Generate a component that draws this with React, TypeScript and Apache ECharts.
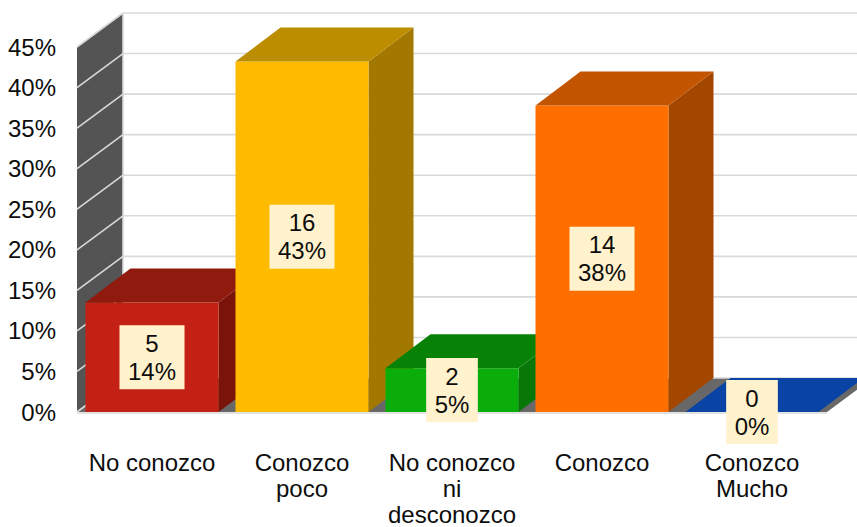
import React, { useEffect, useRef } from "react";
import * as echarts from "echarts";

const categories = ["No conozco", "Conozco\npoco", "No conozco\nni\ndesconozco", "Conozco", "Conozco\nMucho"];
const counts = [5, 16, 2, 14, 0];
const shares = [13.5, 43.2, 5.4, 37.8, 0];
const yTicks = [0, 5, 10, 15, 20, 25, 30, 35, 40, 45];

const frontColors = ["#c32113", "#ffbb00", "#0aad0a", "#ff6f00", "#0944a5"];
const topColors = ["#8f1a0d", "#bd8d00", "#078207", "#c45500", "#0944a5"];
const sideColors = ["#7a130a", "#a37800", "#077707", "#a34700", "#07358a"];

// Projection of the chart's depth axis, in pixels
const DEPTH_X = 46;
const DEPTH_Y = -34;
const BAR_DEPTH_X = 45;
const BAR_RATIO = 133 / 150;
const FONT = "'Liberation Sans', Arial, sans-serif";
const GRID_COLOR = "#d9d9d9";
const TEXT_SIZE = 24;

const poly = (points: number[][], fill: string) => ({
  type: "polygon",
  shape: { points },
  style: { fill, stroke: null },
});

const seg = (a: number[], b: number[], width = 1.6) => ({
  type: "line",
  shape: { x1: a[0], y1: a[1], x2: b[0], y2: b[1] },
  style: { stroke: GRID_COLOR, lineWidth: width },
});

// Side wall and floor of the 3D box
function renderBackdrop(params: any) {
  const { x, y, width, height } = params.coordSys;
  const bottom = y + height;
  const right = x + width;
  return {
    type: "group",
    children: [
      poly([[x, y], [x + DEPTH_X, y + DEPTH_Y], [x + DEPTH_X, bottom + DEPTH_Y], [x, bottom]], "#545454"),
      poly([[x, bottom], [right, bottom], [right + DEPTH_X, bottom + DEPTH_Y], [x + DEPTH_X, bottom + DEPTH_Y]], "#686868"),
      seg([x + DEPTH_X, y + DEPTH_Y], [x + DEPTH_X, bottom + DEPTH_Y]),
      seg([x, bottom + 1], [right, bottom + 1]),
    ],
  };
}

// One gridline: slanted across the wall, then level along the back
function renderGridline(params: any, api: any) {
  const { x, width } = params.coordSys;
  const py = api.coord([0, api.value(0)])[1];
  return {
    type: "group",
    children: [
      seg([x, py], [x + DEPTH_X, py + DEPTH_Y]),
      seg([x + DEPTH_X, py + DEPTH_Y], [x + width + DEPTH_X, py + DEPTH_Y]),
    ],
  };
}

function renderBar(params: any, api: any) {
  const i = params.dataIndex;
  const [cx, top] = api.coord([i, api.value(1)]);
  const base = api.coord([i, 0])[1];
  const half = (api.size([1, 0])[0] * BAR_RATIO) / 2;
  const l = cx - half;
  const r = cx + half;
  const children: any[] = [];
  if (base - top > 0) {
    children.push(
      poly([[r, top], [r + BAR_DEPTH_X, top + DEPTH_Y], [r + BAR_DEPTH_X, base + DEPTH_Y], [r, base]], sideColors[i]),
      poly([[l, base], [r, base], [r, top], [l, top]], frontColors[i]),
    );
  }
  children.push(poly([[l, top], [r, top], [r + BAR_DEPTH_X, top + DEPTH_Y], [l + BAR_DEPTH_X, top + DEPTH_Y]], topColors[i]));
  return { type: "group", children };
}

function renderLabel(params: any, api: any) {
  const i = params.dataIndex;
  const share = api.value(1);
  const [cx, top] = api.coord([i, share]);
  const base = api.coord([i, 0])[1];
  return {
    type: "text",
    x: cx,
    y: (top + base) / 2,
    style: {
      text: `${counts[i]}\n${Math.round(share)}%`,
      fontFamily: FONT,
      fontSize: TEXT_SIZE,
      lineHeight: 28,
      fill: "#0d0d0d",
      align: "center",
      verticalAlign: "middle",
      backgroundColor: "#fff2cc",
      padding: [4, 8.5, 4, 8.5],
    },
  };
}

export default function App() {
  const ref = useRef<HTMLDivElement>(null);

  useEffect(() => {
    const chart = echarts.init(ref.current!, null, { renderer: "svg" });
    const rows = shares.map((v, i) => [i, v]);
    chart.setOption({
      animation: false,
      backgroundColor: "#ffffff",
      grid: { left: 77, right: 30, top: 47, bottom: 115, outerBoundsMode: "none" },
      xAxis: {
        type: "category",
        data: categories,
        axisLine: { show: false },
        axisTick: { show: false },
        axisLabel: {
          interval: 0,
          margin: 37,
          color: "#0d0d0d",
          fontFamily: FONT,
          fontSize: TEXT_SIZE,
          lineHeight: 26,
          verticalAlign: "top",
        },
      },
      yAxis: {
        type: "value",
        min: 0,
        max: 45,
        interval: 5,
        axisLine: { show: false },
        axisTick: { show: false },
        splitLine: { show: false },
        axisLabel: {
          formatter: "{value}%",
          margin: 21,
          color: "#0d0d0d",
          fontFamily: FONT,
          fontSize: TEXT_SIZE,
        },
      },
      series: [
        { type: "custom", silent: true, z: 1, renderItem: renderBackdrop, data: [[0, 0]] },
        {
          type: "custom",
          silent: true,
          z: 2,
          renderItem: renderGridline,
          encode: { y: 0 },
          data: yTicks.map((t) => [t]),
        },
        { type: "custom", silent: true, z: 3, renderItem: renderBar, encode: { x: 0, y: 1 }, data: rows },
        { type: "custom", silent: true, z: 4, renderItem: renderLabel, encode: { x: 0, y: 1 }, data: rows },
      ],
    });
    return () => chart.dispose();
  }, []);

  return <div ref={ref} style={{ position: "fixed", left: 0, top: 0, width: 857, height: 527 }} />;
}
